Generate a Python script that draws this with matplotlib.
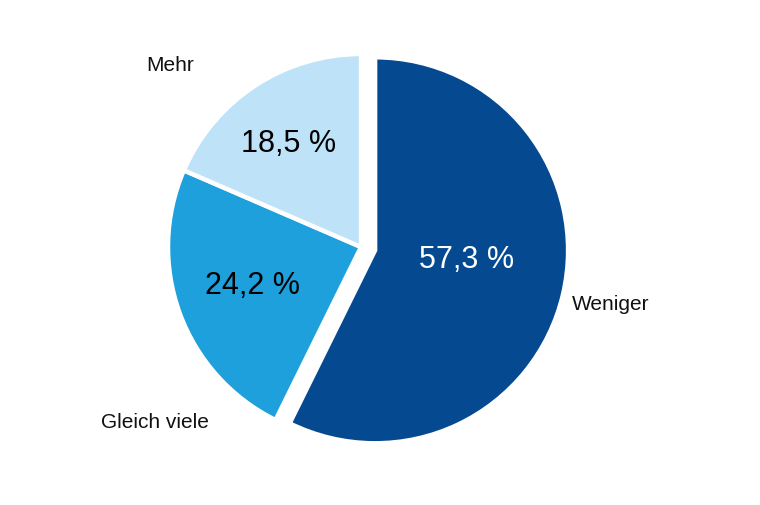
import matplotlib.pyplot as plt

# data
labels = ['Weniger', 'Gleich viele', 'Mehr']
shares = [57.3, 24.2, 18.5]
colors = ['#054a91', '#1ea0dc', '#bee2f7']
pct_colors = ['white', 'black', 'black']

plt.rcParams['font.family'] = ['Liberation Sans', 'DejaVu Sans']

fig = plt.figure(figsize=(7.6, 5.06), dpi=100)
ax = fig.add_axes([0, 0, 1, 1])

wedges, _ = ax.pie(shares, colors=colors, startangle=90, counterclock=False,
                   explode=[0.075, 0, 0], radius=1,
                   wedgeprops=dict(edgecolor='white', linewidth=3.2))

# pixel based layout: pie centre at (361, 248) px, radius 193 px
cx, cy, r = 361, 248, 193
ax.set_xlim(-cx / r, (760 - cx) / r)
ax.set_ylim(-(506 - cy) / r, cy / r)
ax.set_aspect('equal')
ax.axis('off')

def px(x, y):
    return (x - cx) / r, (cy - y) / r

pct_pos = [px(467, 260), px(252, 286), px(289, 144)]
name_pos = [px(611, 305), px(155, 423), px(170, 66)]

for s, pos, c in zip(shares, pct_pos, pct_colors):
    ax.text(pos[0], pos[1], f"{s:.1f} %".replace('.', ','), color=c,
            fontsize=22, ha='center', va='center')

for lab, pos in zip(labels, name_pos):
    ax.text(pos[0], pos[1], lab, color='#111111', fontsize=15,
            ha='center', va='center')

fig.savefig('out.png', dpi=100)
